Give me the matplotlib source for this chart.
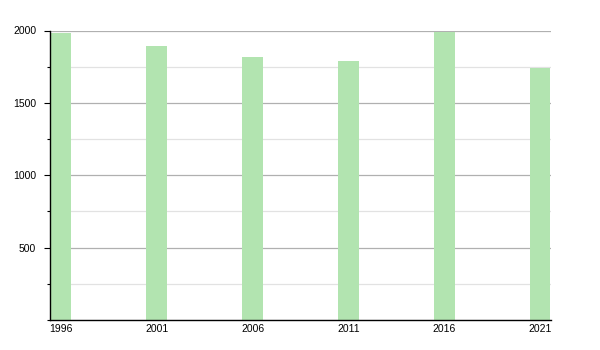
import matplotlib
matplotlib.use("Agg")
import matplotlib.pyplot as plt
from matplotlib.ticker import MultipleLocator

# population by census year
years = [1996, 2001, 2006, 2011, 2016, 2021]
population = [1981, 1893, 1817, 1789, 1990, 1743]

plt.rcParams['font.family'] = ['Liberation Sans', 'DejaVu Sans']

fig = plt.figure(figsize=(6, 3.5), dpi=100)
ax = fig.add_axes([50 / 600, 30 / 350, 501 / 600, 289.5 / 350])

ax.bar(years, population, width=1.08, color='#b2e4b0', zorder=2)

ax.set_xlim(1995.43, 2021.57)
ax.set_ylim(0, 2000)
ax.set_xticks(years)
ax.set_xticklabels([str(y) for y in years])
ax.yaxis.set_major_locator(MultipleLocator(500))
ax.yaxis.set_minor_locator(MultipleLocator(250))
ax.set_yticks([500, 1000, 1500, 2000])

ax.grid(axis='y', which='major', color='#b0b0b0', linewidth=0.9, zorder=0)
ax.grid(axis='y', which='minor', color='#e2e2e2', linewidth=0.9, zorder=0)
ax.set_axisbelow(True)

for side in ['top', 'right']:
    ax.spines[side].set_visible(False)
ax.spines['left'].set_linewidth(1.0)
ax.spines['bottom'].set_linewidth(1.0)

ax.tick_params(axis='y', which='major', length=4, width=0.8, pad=6, labelsize=7.5)
ax.tick_params(axis='y', which='minor', length=2.5, width=0.8)
ax.tick_params(axis='x', length=0, pad=3, labelsize=7.5)

fig.savefig('out.png', dpi=100)
